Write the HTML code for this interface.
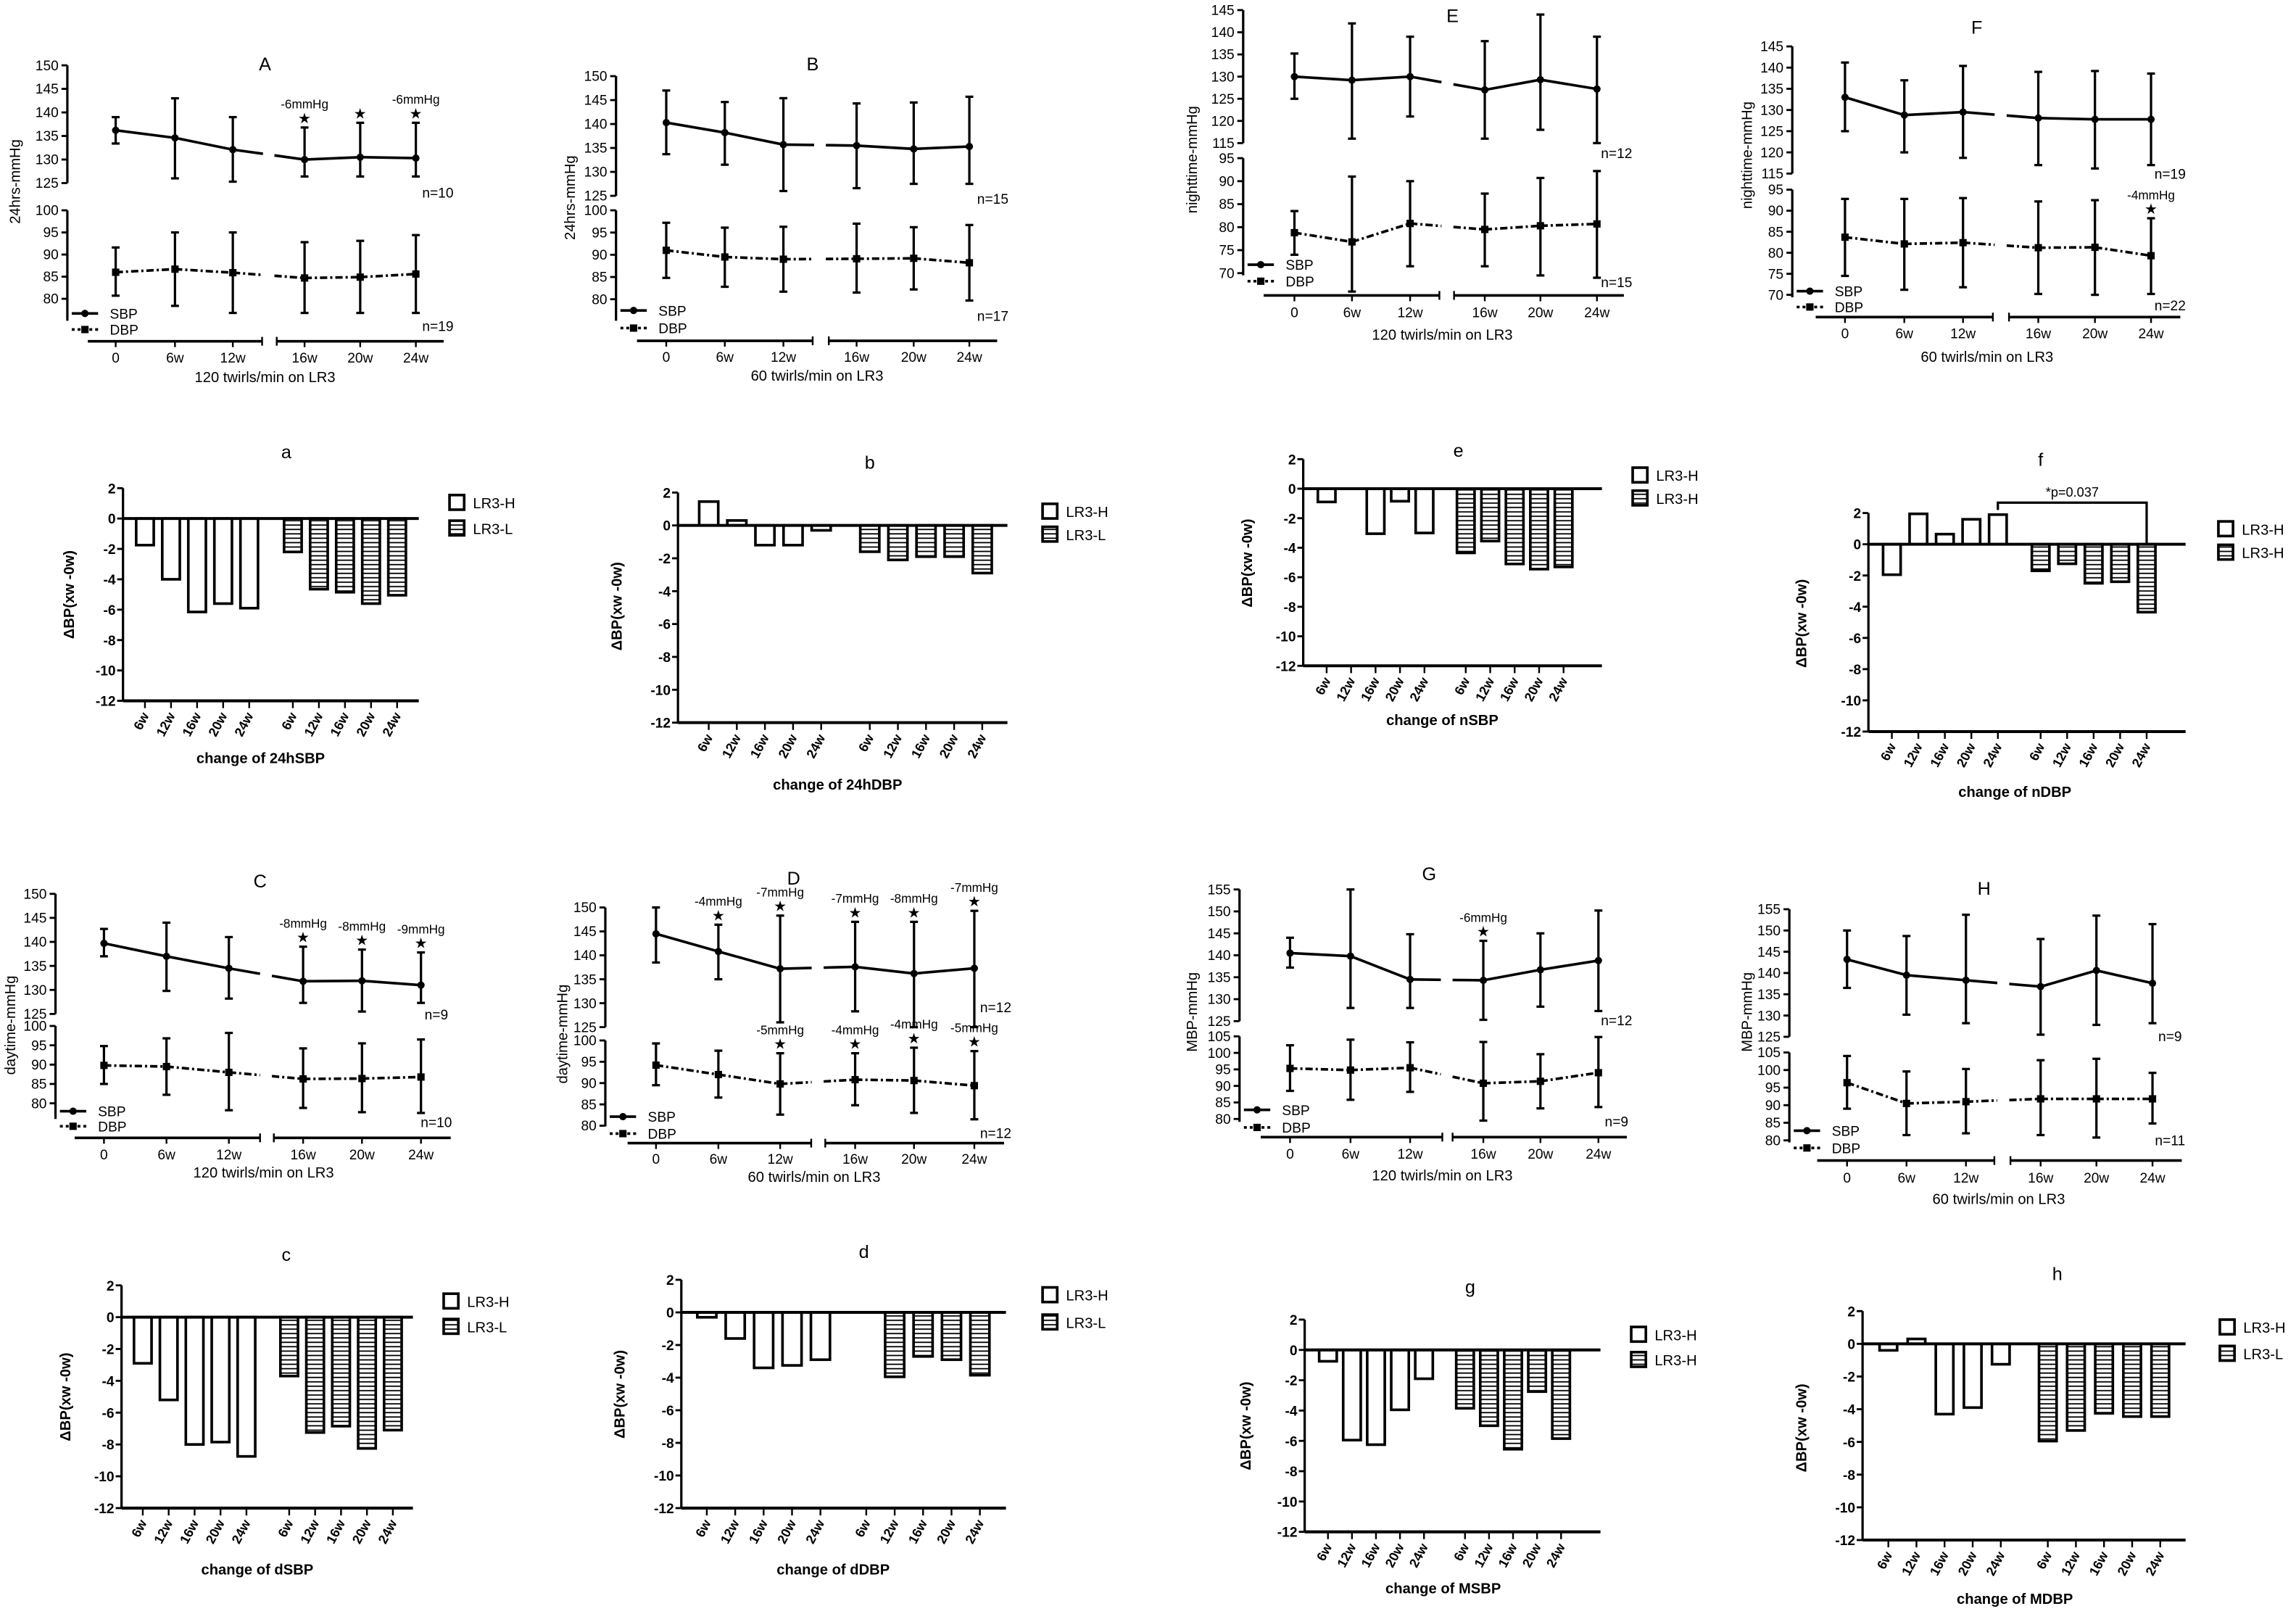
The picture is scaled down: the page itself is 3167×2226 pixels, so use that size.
<!DOCTYPE html>
<html><head><meta charset="utf-8"><title>BP panels</title>
<style>
html,body{margin:0;padding:0;background:#fff;}
svg{display:block;font-family:"Liberation Sans",sans-serif;}
</style></head>
<body>
<svg id="fig" xmlns="http://www.w3.org/2000/svg" width="3167" height="2226" viewBox="0 0 1568 1102" preserveAspectRatio="none">
<defs>
<pattern id="hatch" width="4" height="3" patternUnits="userSpaceOnUse"><rect width="4" height="3" fill="#fff"/><line x1="0" y1="1.5" x2="4" y2="1.5" stroke="#000" stroke-width="0.9"/></pattern>
</defs>
<rect x="0" y="0" width="1568" height="1102" fill="#fff"/>
</svg>
<script>
// ---- shared categories ----
const timeLabels = ['0','6w','12w','16w','20w','24w'];
const barLabels = ['6w','12w','16w','20w','24w'];

// ---- line panel data (mean, lower error, upper error) ----
const A_sbp = [136.2,134.6,132.1,130,130.5,130.3];
const A_sbpLo = [133.4,126,125.3,126.4,126.4,126.4];
const A_sbpHi = [139,143,139,136.8,137.8,137.8];
const A_dbp = [86,86.7,85.9,84.7,84.9,85.6];
const A_dbpLo = [80.7,78.4,76.8,76.8,76.8,76.8];
const A_dbpHi = [91.6,95,95,92.8,93.1,94.4];

const B_sbp = [140.3,138.2,135.7,135.5,134.8,135.3];
const B_sbpLo = [133.7,131.5,126,126.6,127.5,127.5];
const B_sbpHi = [147,144.6,145.4,144.3,144.5,145.7];
const B_dbp = [91,89.5,89,89.1,89.2,88.2];
const B_dbpLo = [84.8,82.8,81.7,81.5,82.2,79.7];
const B_dbpHi = [97.2,96.1,96.3,97,96.2,96.7];

const E_sbp = [130,129.2,130,127,129.3,127.2];
const E_sbpLo = [125,116,121,116,118,115];
const E_sbpHi = [135.2,142,139,138,144,139];
const E_dbp = [78.8,76.8,80.8,79.5,80.3,80.7];
const E_dbpLo = [74,66,71.5,71.5,69.5,69];
const E_dbpHi = [83.5,91,90,87.3,90.7,92.2];

const F_sbp = [133,128.8,129.5,128.1,127.8,127.8];
const F_sbpLo = [125,120,118.7,117,116.2,117];
const F_sbpHi = [141.2,137,140.4,139,139.2,138.6];
const F_dbp = [83.7,82.1,82.4,81.2,81.3,79.3];
const F_dbpLo = [74.5,71.2,71.8,70.2,70,70.2];
const F_dbpHi = [92.8,92.8,93,92.2,92.5,88.2];

const C_sbp = [139.7,137,134.5,131.8,131.9,131];
const C_sbpLo = [137,129.8,128.2,127.3,125.5,127.3];
const C_sbpHi = [142.7,144,141,139,138.4,137.8];
const C_dbp = [89.8,89.5,88,86.3,86.4,86.8];
const C_dbpLo = [85,82.2,78.2,78.8,77.7,77.5];
const C_dbpHi = [94.8,96.8,98.2,94.2,95.5,96.5];

const D_sbp = [144.5,140.8,137.2,137.6,136.2,137.3];
const D_sbpLo = [138.5,135,126,128.3,125,125];
const D_sbpHi = [150,146.4,148.3,147,147,149.3];
const D_dbp = [94.2,92,89.8,90.8,90.6,89.4];
const D_dbpLo = [89.5,86.6,82.6,84.8,83,81.5];
const D_dbpHi = [99.3,97.6,97,97,98.3,97.5];

const G_sbp = [140.5,139.8,134.5,134.3,136.7,138.8];
const G_sbpLo = [137.2,128,128,125.3,128.3,127.3];
const G_sbpHi = [144,155,144.8,143.3,145,150.2];
const G_dbp = [95.3,94.8,95.5,90.8,91.4,94];
const G_dbpLo = [88.5,85.8,88.2,79.5,83.2,83.6];
const G_dbpHi = [102.3,104,103.2,103.3,99.6,104.8];

const H_sbp = [143.2,139.5,138.3,136.8,140.6,137.6];
const H_sbpLo = [136.5,130.2,128.2,125.5,127.8,128.2];
const H_sbpHi = [150,148.7,153.7,148,153.5,151.5];
const H_dbp = [96.4,90.5,91,91.8,91.8,91.8];
const H_dbpLo = [89,81.5,82,81.5,80.8,84.8];
const H_dbpHi = [104,99.6,100.3,102.8,103.2,99.2];

// ---- bar panel data (change from baseline) ----
const a_H = [-1.75,-4.0,-6.15,-5.6,-5.9];
const a_L = [-2.2,-4.65,-4.85,-5.6,-5.05];
const b_H = [1.45,0.3,-1.2,-1.2,-0.3];
const b_L = [-1.6,-2.1,-1.9,-1.9,-2.9];
const e_H = [-0.9,0,-3.05,-0.85,-3.0];
const e_L = [-4.35,-3.55,-5.1,-5.45,-5.3];
const f_H = [-1.95,1.95,0.65,1.6,1.9];
const f_L = [-1.7,-1.25,-2.5,-2.4,-4.35];
const c_H = [-2.9,-5.2,-8.0,-7.85,-8.75];
const c_L = [-3.7,-7.25,-6.85,-8.25,-7.1];
const d_H = [-0.3,-1.6,-3.4,-3.25,-2.9];
const d_L = [0,-3.95,-2.7,-2.9,-3.85];
const g_H = [-0.75,-5.95,-6.25,-3.95,-1.9];
const g_L = [-3.85,-5.0,-6.55,-2.75,-5.85];
const h_H = [-0.4,0.3,-4.3,-3.9,-1.25];
const h_L = [-5.95,-5.3,-4.25,-4.45,-4.45];
const barTicks = [2,0,-2,-4,-6,-8,-10,-12];

const NS = 'http://www.w3.org/2000/svg';
const svg = document.getElementById('fig');
const FONT = '"Liberation Sans", sans-serif';

function add(parent, tag, attrs, name) {
  const el = document.createElementNS(NS, tag);
  for (const k in attrs) el.setAttribute(k, attrs[k]);
  
  
  parent.appendChild(el);
  return el;
}
function text(parent, x, y, s, size, name, extra) {
  const a = {x: x, y: y, 'font-size': size, 'font-family': FONT, fill: '#000'};
  if (extra) for (const k in extra) a[k] = extra[k];
  const el = add(parent, 'text', a, name);
  el.textContent = s;
  return el;
}
function line(parent, x1, y1, x2, y2, w, name, dash) {
  const a = {x1: x1, y1: y1, x2: x2, y2: y2, stroke: '#000', 'stroke-width': w};
  if (dash) a['stroke-dasharray'] = dash;
  return add(parent, 'line', a, name);
}

function linePanel(c, sbp, sbpLo, sbpHi, dbp, dbpLo, dbpHi) {
  const g = add(svg, 'g', {}, 'panel-' + c.id);
  const yU = v => c.up[1] + (v - c.up[0]) * (c.up[3] - c.up[1]) / (c.up[2] - c.up[0]);
  const yL = v => c.lo[1] + (v - c.lo[0]) * (c.lo[3] - c.lo[1]) / (c.lo[2] - c.lo[0]);
  // axes
  line(g, c.ax, yU(c.up[0]), c.ax, yU(c.up[2]), 1.6, 'upper-y-axis');
  for (let v = c.up[2]; v <= c.up[0]; v += 5) {
    line(g, c.ax - 4, yU(v), c.ax, yU(v), 1.4, 'upper-y-tick');
    text(g, c.ax - 6, yU(v) + 3.3, String(v), 9.5, 'upper-y-tick-label', {'text-anchor': 'end'});
  }
  line(g, c.ax, yL(c.lo[0]), c.ax, c.lo[4], 1.6, 'lower-y-axis');
  for (let v = c.lo[2]; v <= c.lo[0]; v += 5) {
    line(g, c.ax - 4, yL(v), c.ax, yL(v), 1.4, 'lower-y-tick');
    text(g, c.ax - 6, yL(v) + 3.3, String(v), 9.5, 'lower-y-tick-label', {'text-anchor': 'end'});
  }
  // baseline with break
  line(g, c.b1[0], c.base, c.b1[1], c.base, 1.8, 'x-axis-left');
  line(g, c.b1[1], c.base - 3, c.b1[1], c.base + 3, 1.2, 'x-axis-break-tick');
  line(g, c.b2[0], c.base, c.b2[1], c.base, 1.8, 'x-axis-right');
  line(g, c.b2[0], c.base - 3, c.b2[0], c.base + 3, 1.2, 'x-axis-break-tick');
  c.xs.forEach((x, i) => {
    line(g, x, c.base, x, c.base + 4, 1.2, 'x-tick');
    text(g, x, c.labY, timeLabels[i], 9.5, 'x-tick-label', {'text-anchor': 'middle'});
  });
  text(g, c.xt[0], c.xt[1], c.xt[2], 10, 'x-axis-title', {'text-anchor': 'middle'});
  text(g, c.title[0], c.title[1], c.title[2], 12.5, 'panel-title', {'text-anchor': 'middle'});
  const yt = text(g, 0, 0, c.yt[2], 10, 'y-axis-title', {'text-anchor': 'middle', transform: 'translate(' + (c.yt[0] + 3.5) + ',' + c.yt[1] + ') rotate(-90)'});
  // series
  function series(vals, lo, hi, sc, dash, sq, nm) {
    const pts = vals.map((v, i) => [c.xs[i], sc(v)]);
    for (let i = 0; i < pts.length - 1; i++) {
      const p = pts[i], q = pts[i + 1];
      if (i === 2) {
        const f1 = 0.42, f2 = 0.58;
        line(g, p[0], p[1], p[0] + (q[0] - p[0]) * f1, p[1] + (q[1] - p[1]) * f1, 1.8, nm + '-line', dash);
        line(g, p[0] + (q[0] - p[0]) * f2, p[1] + (q[1] - p[1]) * f2, q[0], q[1], 1.8, nm + '-line', dash);
      } else {
        line(g, p[0], p[1], q[0], q[1], 1.8, nm + '-line', dash);
      }
    }
    vals.forEach((v, i) => {
      const x = c.xs[i];
      line(g, x, sc(lo[i]), x, sc(hi[i]), 1.6, nm + '-error-bar');
      line(g, x - 2.7, sc(lo[i]), x + 2.7, sc(lo[i]), 1.6, nm + '-error-cap');
      line(g, x - 2.7, sc(hi[i]), x + 2.7, sc(hi[i]), 1.6, nm + '-error-cap');
      if (sq) add(g, 'rect', {x: x - 2.5, y: sc(v) - 2.5, width: 5, height: 5, fill: '#000'}, nm + '-point');
      else add(g, 'circle', {cx: x, cy: sc(v), r: 2.5, fill: '#000'}, nm + '-point');
    });
  }
  series(sbp, sbpLo, sbpHi, yU, null, false, 'sbp');
  series(dbp, dbpLo, dbpHi, yL, '5 2 1.5 2', true, 'dbp');
  // stars
  (c.su || []).forEach((s, k) => {
    const x = c.xs[s[0]], top = yU(sbpHi[s[0]]);
    text(g, x, top - 3, '★', 10, 'significance-star', {'text-anchor': 'middle'});
    if (s[1]) text(g, x, top - 13, s[1], 8.5, 'change-annotation', {'text-anchor': 'middle'});
  });
  (c.sl || []).forEach((s, k) => {
    const x = c.xs[s[0]], top = yL(dbpHi[s[0]]);
    text(g, x, top - 3, '★', 10, 'significance-star', {'text-anchor': 'middle'});
    if (s[1]) text(g, x, top - 13, s[1], 8.5, 'change-annotation', {'text-anchor': 'middle'});
  });
  // legend
  const lx = c.ax + 3;
  line(g, lx, c.leg[0], lx + 18, c.leg[0], 1.8, 'legend-sbp-line');
  add(g, 'circle', {cx: lx + 9, cy: c.leg[0], r: 2.5, fill: '#000'}, 'legend-sbp-marker');
  text(g, lx + 26, c.leg[0] + 3.5, 'SBP', 9.5, 'legend-sbp-label');
  line(g, lx, c.leg[1], lx + 18, c.leg[1], 1.8, 'legend-dbp-line', '2 2');
  add(g, 'rect', {x: lx + 6.5, y: c.leg[1] - 2.5, width: 5, height: 5, fill: '#000'}, 'legend-dbp-marker');
  text(g, lx + 26, c.leg[1] + 3.5, 'DBP', 9.5, 'legend-dbp-label');
  c.n.forEach(n => text(g, n[0], n[1], n[2], 9.5, 'sample-size-label', {'text-anchor': 'middle'}));
}

function barPanel(c, H, L) {
  const g = add(svg, 'g', {}, 'panel-' + c.id);
  const y = v => c.p2 + (2 - v) * (c.p12 - c.p2) / 14;
  line(g, c.ax, y(2), c.ax, y(-12), 1.6, 'y-axis');
  barTicks.forEach(v => {
    line(g, c.ax - 4, y(v), c.ax, y(v), 1.4, 'y-tick');
    text(g, c.ax - 5, y(v) + 3.5, String(v), 9.5, 'y-tick-label', {'text-anchor': 'end', 'font-weight': 'bold'});
  });
  line(g, c.ax, y(-12), c.end, y(-12), 2, 'x-axis');
  const ytl = text(g, 0, 0, 'ΔBP(xw -0w)', 10, 'y-axis-title', {'text-anchor': 'middle', 'font-weight': 'bold', transform: 'translate(' + (c.yt[0] + 3.5) + ',' + c.yt[1] + ') rotate(-90)'});
  const xs = [];
  for (let i = 0; i < 5; i++) xs.push(c.h0 + i * c.sp);
  for (let i = 0; i < 5; i++) xs.push(c.l0 + i * c.sp);
  const vals = H.concat(L);
  vals.forEach((v, i) => {
    const x = xs[i];
    if (v !== 0) {
      const y0 = y(0), y1 = y(v);
      add(g, 'rect', {x: x - c.bw / 2, y: Math.min(y0, y1), width: c.bw, height: Math.abs(y1 - y0), fill: i < 5 ? '#fff' : 'url(#hatch)', stroke: '#000', 'stroke-width': 1.8}, i < 5 ? 'bar-lr3-h' : 'bar-lr3-l');
    }
    line(g, x, y(-12), x, y(-12) + 5, 1.2, 'x-tick');
    text(g, 0, 0, barLabels[i % 5], 9, 'x-tick-label', {'text-anchor': 'end', 'font-weight': 'bold', transform: 'translate(' + (x + 3) + ',' + (y(-12) + 10) + ') rotate(-62)'});
  });
  line(g, c.ax, y(0), c.end, y(0), 2, 'zero-line');
  text(g, c.title[0], c.title[1], c.title[2], 12.5, 'panel-title', {'text-anchor': 'middle'});
  text(g, c.xt[0], c.xt[1], c.xt[2], 10, 'x-axis-title', {'text-anchor': 'middle', 'font-weight': 'bold'});
  add(g, 'rect', {x: c.leg[0], y: c.leg[1] - 5, width: 10, height: 10, fill: '#fff', stroke: '#000', 'stroke-width': 1.8}, 'legend-h-swatch');
  text(g, c.leg[0] + 16, c.leg[1] + 4, c.leg[3], 10, 'legend-h-label');
  add(g, 'rect', {x: c.leg[0], y: c.leg[2] - 5, width: 10, height: 10, fill: 'url(#hatch)', stroke: '#000', 'stroke-width': 1.8}, 'legend-l-swatch');
  text(g, c.leg[0] + 16, c.leg[2] + 4, c.leg[4], 10, 'legend-l-label');
  if (c.bracket) {
    add(g, 'path', {d: 'M' + xs[4] + ',' + (c.bracket[0] + 5) + ' V' + c.bracket[0] + ' H' + xs[9] + ' V' + y(0), fill: 'none', stroke: '#000', 'stroke-width': 1.6}, 'significance-bracket');
    text(g, (xs[4] + xs[9]) / 2, c.bracket[0] - 4, '*p=0.037', 9, 'p-value-label', {'text-anchor': 'middle'});
  }
}

linePanel({id:'A', ax:46, xs:[79,119.5,159,208,246,284], up:[150,44.6,125,125], lo:[100,143.6,80,204,219], base:233, b1:[60,179], b2:[189,303], labY:247.5, title:[181,48,'A'], xt:[181,261,'120 twirls/min on LR3'], yt:[10,124,'24hrs-mmHg'], leg:[214,225], n:[[299,135,'n=10'],[299,226,'n=19']], su:[[3,'-6mmHg'],[4,''],[5,'-6mmHg']]}, A_sbp,A_sbpLo,A_sbpHi,A_dbp,A_dbpLo,A_dbpHi);
linePanel({id:'B', ax:420.7, xs:[455,495,535,585,624,662], up:[150,52,125,133.7], lo:[100,143.6,80,204.3,219], base:232.7, b1:[435,555], b2:[566,681], labY:247, title:[555,48,'B'], xt:[558,260,'60 twirls/min on LR3'], yt:[389,135,'24hrs-mmHg'], leg:[212,224], n:[[678,139,'n=15'],[678,219,'n=17']]}, B_sbp,B_sbpLo,B_sbpHi,B_dbp,B_dbpLo,B_dbpHi);
linePanel({id:'E', ax:849, xs:[884,923.3,963,1014,1052,1090.6], up:[145,6.9,115,97.7], lo:[95,108,70,186.5,188], base:201.7, b1:[863,983], b2:[993,1109], labY:216.5, title:[992,15,'E'], xt:[985,232,'120 twirls/min on LR3'], yt:[814,109,'nighttime-mmHg'], leg:[180.7,192], n:[[1104,108,'n=12'],[1104,196,'n=15']]}, E_sbp,E_sbpLo,E_sbpHi,E_dbp,E_dbpLo,E_dbpHi);
linePanel({id:'F', ax:1224, xs:[1260,1300.5,1340.6,1392,1430.7,1469], up:[145,31.7,115,118.5], lo:[95,129.5,70,201.3,203], base:216.5, b1:[1240,1361], b2:[1372,1489], labY:231, title:[1350,23,'F'], xt:[1357,247,'60 twirls/min on LR3'], yt:[1193,106,'nighttime-mmHg'], leg:[198.8,209.6], n:[[1482,122,'n=19'],[1482,212,'n=22']], sl:[[5,'-4mmHg']]}, F_sbp,F_sbpLo,F_sbpHi,F_dbp,F_dbpLo,F_dbpHi);
linePanel({id:'C', ax:37.9, xs:[71,113.7,156.3,207,247.2,287.5], up:[150,610.3,125,692.3], lo:[100,700.5,80,753.3,764], base:776.9, b1:[51,177.6], b2:[187,307.8], labY:791.5, title:[177.6,606,'C'], xt:[180,804,'120 twirls/min on LR3'], yt:[7,700,'daytime-mmHg'], leg:[758.7,769], n:[[298,696,'n=9'],[298,769.5,'n=10']], su:[[3,'-8mmHg'],[4,'-8mmHg'],[5,'-9mmHg']]}, C_sbp,C_sbpLo,C_sbpHi,C_dbp,C_dbpLo,C_dbpHi);
linePanel({id:'D', ax:413.4, xs:[448,490.6,532.8,584,624.2,665.4], up:[150,619.6,125,701.3], lo:[100,710.4,80,768.6,769], base:780.5, b1:[428.6,554], b2:[563.6,685.7], labY:794.5, title:[542,604,'D'], xt:[556,807,'60 twirls/min on LR3'], yt:[384,706,'daytime-mmHg'], leg:[762.4,774], n:[[680,691,'n=12'],[680,777,'n=12']], su:[[1,'-4mmHg'],[2,'-7mmHg'],[3,'-7mmHg'],[4,'-8mmHg'],[5,'-7mmHg']], sl:[[2,'-5mmHg'],[3,'-4mmHg'],[4,'-4mmHg'],[5,'-5mmHg']]}, D_sbp,D_sbpLo,D_sbpHi,D_dbp,D_dbpLo,D_dbpHi);
linePanel({id:'G', ax:846.5, xs:[881,922.3,963,1013,1052,1091.6], up:[155,607.3,125,697.2], lo:[105,707.6,80,764,766], base:776.4, b1:[861,985], b2:[992,1111], labY:791, title:[976,601,'G'], xt:[985,806,'120 twirls/min on LR3'], yt:[814,691,'MBP-mmHg'], leg:[757.8,769.8], n:[[1104,700,'n=12'],[1104,769,'n=9']], su:[[3,'-6mmHg']]}, G_sbp,G_sbpLo,G_sbpHi,G_dbp,G_dbpLo,G_dbpHi);
linePanel({id:'H', ax:1222, xs:[1261.4,1302,1342.6,1393.6,1431.7,1470], up:[155,620.8,125,707.9], lo:[105,718.6,80,778.6,780], base:792.4, b1:[1241,1362], b2:[1373,1490], labY:807.5, title:[1355,611,'H'], xt:[1365,822,'60 twirls/min on LR3'], yt:[1193,691,'MBP-mmHg'], leg:[772,783.8], n:[[1482,711,'n=9'],[1482,782,'n=11']]}, H_sbp,H_sbpLo,H_sbpHi,H_dbp,H_dbpLo,H_dbpHi);

barPanel({id:'a', ax:84, p2:333.3, p12:478.5, end:286, h0:99, l0:200, sp:17.8, bw:12, title:[195.5,313,'a'], leg:[307,343,360.5,'LR3-H','LR3-L'], yt:[47,406], xt:[178,521,'change of 24hSBP']}, a_H, a_L);
barPanel({id:'b', ax:463, p2:336.3, p12:493.4, end:688, h0:484, l0:594, sp:19.2, bw:13, title:[594,320,'b'], leg:[712,349,364.7,'LR3-H','LR3-L'], yt:[421,414], xt:[572,539,'change of 24hDBP']}, b_H, b_L);
barPanel({id:'e', ax:890, p2:313.5, p12:454.6, end:1094, h0:906, l0:1001, sp:16.7, bw:12, title:[996,312,'e'], leg:[1115,324.3,340,'LR3-H','LR3-H'], yt:[851.5,384.5], xt:[985,495,'change of nSBP']}, e_H, e_L);
barPanel({id:'f', ax:1276, p2:350.3, p12:499.5, end:1492.6, h0:1292, l0:1393.6, sp:18.1, bw:12, title:[1393.6,318,'f'], leg:[1515,361,377,'LR3-H','LR3-H'], yt:[1230,425.7], xt:[1376,544,'change of nDBP'], bracket:[343.2]}, f_H, f_L);
barPanel({id:'c', ax:83, p2:877.6, p12:1029.7, end:282, h0:97.5, l0:197.5, sp:17.7, bw:12, title:[195.5,861,'c'], leg:[303,888.3,905.6,'LR3-H','LR3-L'], yt:[44.6,953.8], xt:[175.7,1075,'change of dSBP']}, c_H, c_L);
barPanel({id:'d', ax:465.3, p2:873.8, p12:1029.7, end:687, h0:482.7, l0:591.6, sp:19.4, bw:13, title:[590,859,'d'], leg:[712,884,902.6,'LR3-H','LR3-L'], yt:[423,952], xt:[569,1075,'change of dDBP']}, d_H, d_L);
barPanel({id:'g', ax:891, p2:901, p12:1045.9, end:1093, h0:906.9, l0:1000.5, sp:16.4, bw:12, title:[1004,883,'g'], leg:[1114,911,928.2,'LR3-H','LR3-H'], yt:[850.5,973.6], xt:[985.6,1088,'change of MSBP']}, g_H, g_L);
barPanel({id:'h', ax:1272, p2:895.2, p12:1051.5, end:1492.6, h0:1289.6, l0:1398.5, sp:19.2, bw:12, title:[1405,874,'h'], leg:[1516,906,924,'LR3-H','LR3-L'], yt:[1230,975], xt:[1376,1095,'change of MDBP']}, h_H, h_L);
</script>
</body></html>
